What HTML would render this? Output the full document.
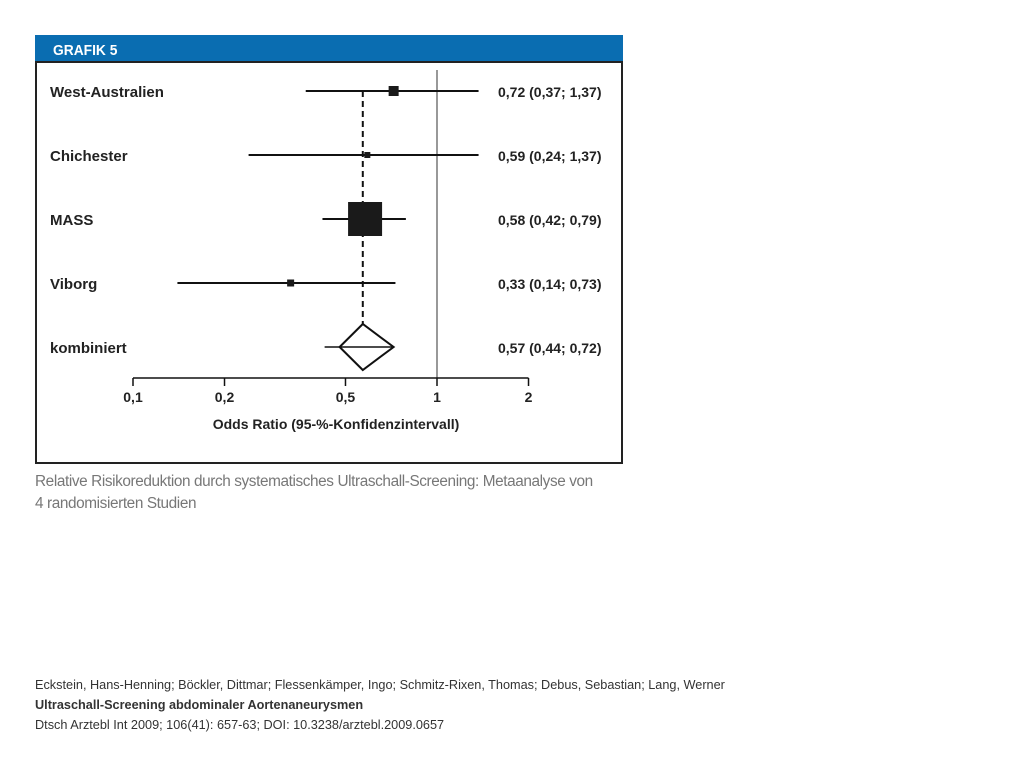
<!DOCTYPE html>
<html><head><meta charset="utf-8"><style>
body{margin:0;background:#fff;width:1024px;height:768px;overflow:hidden;font-family:"Liberation Sans",sans-serif;}
svg{position:absolute;left:0;top:0}
.cap{position:absolute;left:35px;font-size:15.5px;color:#777;letter-spacing:-0.4px;transform:scaleX(0.99);transform-origin:left;white-space:nowrap}
.ft{position:absolute;left:35px;font-size:12.7px;color:#333;white-space:nowrap}
</style></head><body>
<svg width="1024" height="768">
<rect x="35" y="35" width="588" height="28" fill="#0a6db1"/>
<text x="53" y="55" font-size="15" font-weight="bold" fill="#fff" font-family="Liberation Sans" transform="translate(53 0) scale(0.92 1) translate(-53 0)">GRAFIK 5</text>
<rect x="36" y="62" width="586" height="401" fill="none" stroke="#222" stroke-width="2"/>
<g id="plot"></g>
</svg>
<div class="cap" style="top:473px">Relative Risikoreduktion durch systematisches Ultraschall-Screening: Metaanalyse von</div>
<div class="cap" style="top:495px">4 randomisierten Studien</div>
<div class="ft" style="top:678px">Eckstein, Hans-Henning; Böckler, Dittmar; Flessenkämper, Ingo; Schmitz-Rixen, Thomas; Debus, Sebastian; Lang, Werner</div>
<div class="ft" style="top:698px;font-weight:bold">Ultraschall-Screening abdominaler Aortenaneurysmen</div>
<div class="ft" style="top:718px">Dtsch Arztebl Int 2009; 106(41): 657-63; DOI: 10.3238/arztebl.2009.0657</div>
<script>
const studies=["West-Australien","Chichester","MASS","Viborg"];
const orValues=[0.72,0.59,0.58,0.33];
const lowerCI=[0.37,0.24,0.42,0.14];
const upperCI=[1.37,1.37,0.79,0.73];
const weights=[10,6,34,7];
const labels=["0,72 (0,37; 1,37)","0,59 (0,24; 1,37)","0,58 (0,42; 0,79)","0,33 (0,14; 0,73)"];
const combinedName="kombiniert";
const combined=[0.57,0.44,0.72];
const combinedLabel="0,57 (0,44; 0,72)";
const ticks=[0.1,0.2,0.5,1,2];
const tickLabels=["0,1","0,2","0,5","1","2"];
const NS="http://www.w3.org/2000/svg";
const g=document.getElementById('plot');
const xS=v=>437+304*Math.log10(v);
const yS=i=>91+64*i;
function mk(t,a,txt){const e=document.createElementNS(NS,t);for(const k in a)e.setAttribute(k,a[k]);if(txt!==undefined)e.textContent=txt;g.appendChild(e);return e;}
let e;
e=mk('line',{x1:xS(1),x2:xS(1),y1:70,y2:378,stroke:'#555','stroke-width':1.2});

e=mk('line',{x1:xS(combined[0]),x2:xS(combined[0]),y1:yS(0),y2:yS(4)-23,stroke:'#111','stroke-width':2,'stroke-dasharray':'6,4'});

studies.forEach((s,i)=>{
 const y=yS(i);
 e=mk('text',{x:50,y:y+6,'font-size':15,'font-weight':'bold',fill:'#222'},s);
 
 e=mk('line',{x1:xS(lowerCI[i]),x2:xS(upperCI[i]),y1:y,y2:y,stroke:'#111','stroke-width':2});
 
 const w=weights[i];
 e=mk('rect',{x:xS(orValues[i])-w/2,y:y-w/2,width:w,height:w,fill:'#1a1a1a'});
 
 e=mk('text',{x:498,y:y+6,'font-size':14,'font-weight':'bold',fill:'#222'},labels[i]);
 
});
const yc=yS(4);
e=mk('text',{x:50,y:yc+6,'font-size':15,'font-weight':'bold',fill:'#222'},combinedName);

const xc=xS(combined[0]);
e=mk('line',{x1:xS(combined[1])-4,x2:xS(combined[2]),y1:yc,y2:yc,stroke:'#111','stroke-width':1.5});

e=mk('polygon',{points:`${xS(combined[1])+11},${yc} ${xc},${yc-23} ${xS(combined[2])},${yc} ${xc},${yc+23}`,fill:'none',stroke:'#111','stroke-width':2});

e=mk('text',{x:498,y:yc+6,'font-size':14,'font-weight':'bold',fill:'#222'},combinedLabel);

e=mk('line',{x1:xS(ticks[0]),x2:xS(ticks[ticks.length-1]),y1:378,y2:378,stroke:'#111','stroke-width':1.5});

ticks.forEach((t,i)=>{
 e=mk('line',{x1:xS(t),x2:xS(t),y1:378,y2:386,stroke:'#111','stroke-width':1.5});
 
 e=mk('text',{x:xS(t),y:402,'font-size':14,'font-weight':'bold',fill:'#222','text-anchor':'middle'},tickLabels[i]);
 
});
e=mk('text',{x:336,y:429,'font-size':14,'font-weight':'bold',fill:'#222','text-anchor':'middle'},'Odds Ratio (95-%-Konfidenzintervall)');

</script>
</body></html>
